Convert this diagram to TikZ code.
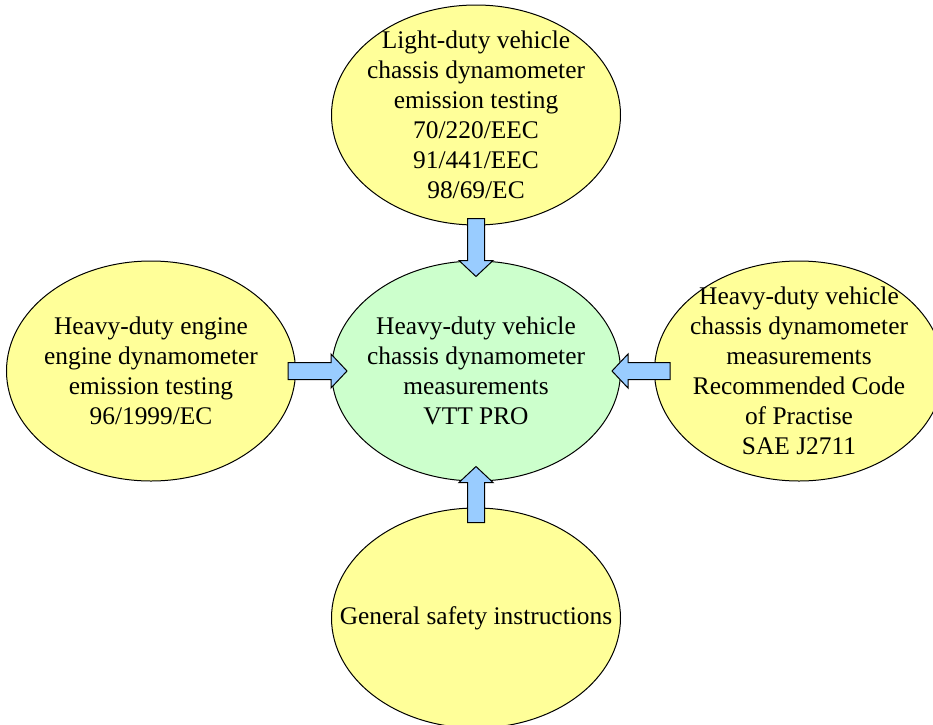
\documentclass[tikz,border=0pt]{standalone}
\usepackage{fontspec}
\setmainfont{Liberation Serif}
\usetikzlibrary{shapes.geometric,positioning,calc}
\definecolor{paleyellow}{HTML}{FFFF99}
\definecolor{palegreen}{HTML}{CCFFCC}
\definecolor{paleblue}{HTML}{99CCFF}
\tikzset{
 topic/.style={ellipse,draw,line width=0.5pt,fill=paleyellow,minimum width=144.5pt,minimum height=110pt,inner sep=-8pt,align=center,font=\fontsize{12.7}{15}\selectfont},
 hubtopic/.style={topic,fill=palegreen},
 feed/.style={draw,line width=0.5pt,fill=paleblue}
}
% block arrow from #1 to #2
\newcommand{\feedarrow}[2]{%
 \path let \p1=(#1),\p2=(#2) in \pgfextra{%
  \pgfmathsetmacro\fdang{atan2(\y2-\y1,\x2-\x1)}\xdef\fdang{\fdang}%
  \pgfmathsetmacro\fdlen{veclen(\x2-\x1,\y2-\y1)}\xdef\fdlen{\fdlen}%
  \xdef\fdx{\x1}\xdef\fdy{\y1}};
 \draw[feed,shift={(\fdx,\fdy)},rotate=\fdang] (0pt,-4.25pt) -- (\fdlen pt-8pt,-4.25pt) -- (\fdlen pt-8pt,-8.5pt)
  -- (\fdlen pt,0pt) -- (\fdlen pt-8pt,8.5pt) -- (\fdlen pt-8pt,4.25pt) -- (0pt,4.25pt) -- cycle;}
\begin{document}
\begin{tikzpicture}[x=0.5pt,y=-0.5pt]%VTT PRO
\useasboundingbox (0,0) rectangle (933,724);
\node[hubtopic] (hub) at (476,371) {Heavy-duty vehicle\\chassis dynamometer\\measurements\\VTT PRO};
\node[topic,above=17.5pt of hub] (light) {Light-duty vehicle\\chassis dynamometer\\emission testing\\70/220/EEC\\91/441/EEC\\98/69/EC};
\node[topic,left=17.5pt of hub] (engine) {Heavy-duty engine\\engine dynamometer\\emission testing\\96/1999/EC};
\node[topic,right=16.5pt of hub] (code) {Heavy-duty vehicle\\chassis dynamometer\\measurements\\Recommended Code\\of Practise\\SAE J2711};
\node[topic,inner xsep=-18pt,below=13pt of hub] (safety) {General safety instructions};
\feedarrow{$(light.south)+(0,-7)$}{$(hub.north)+(0,16)$}
\feedarrow{$(engine.east)+(-8,0)$}{$(hub.west)+(16,0)$}
\feedarrow{$(code.west)+(16,0)$}{$(hub.east)+(-9,0)$}
\feedarrow{$(safety.north)+(0,15)$}{$(hub.south)+(0,-15)$}
\end{tikzpicture}
\end{document}
